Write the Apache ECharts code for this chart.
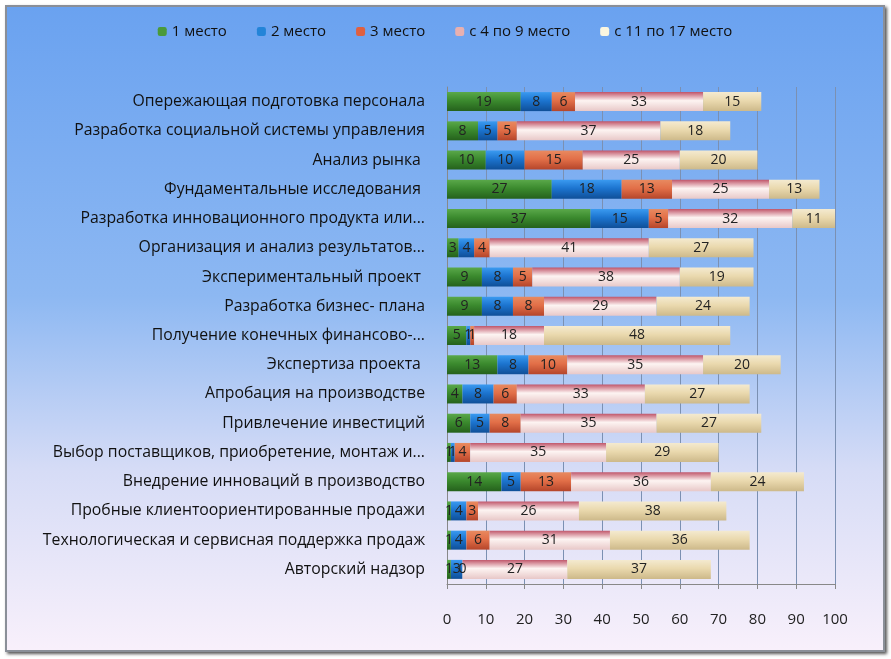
<!DOCTYPE html>
<html><head><meta charset="utf-8">
<script src="https://cdn.jsdelivr.net/npm/echarts@6/dist/echarts.min.js"></script>
<style>
html,body{margin:0;padding:0;background:#fff;}
#frame{position:absolute;left:5px;top:5px;width:876px;height:643px;border:2px solid #8a8f98;box-shadow:2px 2px 3px #555;}
#c{width:876px;height:643px;}
</style></head>
<body><div id="frame"><div id="c"></div></div>
<script>
const categories = [
 'Опережающая подготовка персонала',
 'Разработка социальной системы управления',
 'Анализ рынка ',
 'Фундаментальные исследования ',
 'Разработка инновационного продукта или...',
 'Организация и анализ результатов...',
 'Экспериментальный проект ',
 'Разработка бизнес- плана',
 'Получение конечных финансово-...',
 'Экспертиза проекта ',
 'Апробация на производстве',
 'Привлечение инвестиций',
 'Выбор поставщиков, приобретение, монтаж и...',
 'Внедрение инноваций в производство',
 'Пробные клиентоориентированные продажи',
 'Технологическая и сервисная поддержка продаж',
 'Авторский надзор'
];
const seriesNames = ['1 место','2 место','3 место','с 4 по 9 место','с 11 по 17 место'];
const place1  = [19, 8,10,27,37, 3, 9, 9, 5,13, 4, 6, 1,14, 1, 1, 1];
const place2  = [ 8, 5,10,18,15, 4, 8, 8, 1, 8, 8, 5, 1, 5, 4, 4, 3];
const place3  = [ 6, 5,15,13, 5, 4, 5, 8, 1,10, 6, 8, 4,13, 3, 6, 0];
const place4_9 = [33,37,25,25,32,41,38,29,18,35,33,35,35,36,26,31,27];
const place11_17 = [15,18,20,13,11,27,19,24,48,20,27,27,29,24,38,36,37];
const xTicks = [0,10,20,30,40,50,60,70,80,90,100];

function vg(a,b,c){return new echarts.graphic.LinearGradient(0,0,0,1,[{offset:0,color:a},{offset:0.45,color:b},{offset:1,color:c}]);}
const colors = [
  vg('#5aa84a','#3b8a2e','#25611c'),
  vg('#3a9af0','#1c74cf','#0f4f98'),
  vg('#e88a60','#e26f48','#b5452a'),
  vg('#c0566a','#fdf4f2','#e8c8c8'),
  vg('#f4ead0','#ead9ae','#cdb98a')
];
const legendColors = ['#4a9a3a','#2384d8','#e06040','#e8b0b0','#fbf6e0'];
const dataArr = [place1,place2,place3,place4_9,place11_17];

const chart = echarts.init(document.getElementById('c'));
chart.setOption({
  backgroundColor: new echarts.graphic.LinearGradient(0,0,0,1,[
    {offset:0,color:'#6aa2f0'},{offset:0.45,color:'#8db8f2'},{offset:0.72,color:'#d6dcf6'},{offset:1,color:'#f8f0fb'}]),
  animation:false,
  legend:{top:12,left:'center',itemWidth:9,itemHeight:9,itemGap:30,
    textStyle:{fontFamily:'Open Sans',fontSize:15,color:'#111'},
    data: seriesNames.map((n,i)=>({name:n,itemStyle:{color:legendColors[i]}}))},
  grid:{left:440,right:48,top:80,bottom:66,containLabel:false},
  xAxis:{type:'value',min:0,max:100,interval:10,
    axisLine:{show:true,lineStyle:{color:'#888'}},
    axisTick:{show:true,lineStyle:{color:'#888'}},
    axisLabel:{fontFamily:'Open Sans',fontSize:15,color:'#222',margin:28,
      formatter:v=>xTicks.includes(v)?String(v):''},
    splitLine:{show:true,lineStyle:{color:'#7b90b2',width:1}}},
  yAxis:{type:'category',data:categories,inverse:true,
    axisLine:{show:true,lineStyle:{color:'#888'}},
    axisTick:{show:false},
    axisLabel:{fontFamily:'Open Sans',fontSize:15.8,color:'#111',margin:22,padding:[6,0,0,0]}},
  series: seriesNames.map((n,i)=>({
    name:n,type:'bar',stack:'all',barWidth:19,
    data:dataArr[i],
    itemStyle:{color:colors[i]},
    label:{show:true,position:'inside',color:'#222',fontFamily:'Open Sans',fontSize:14}
  }))
});
</script></body></html>
